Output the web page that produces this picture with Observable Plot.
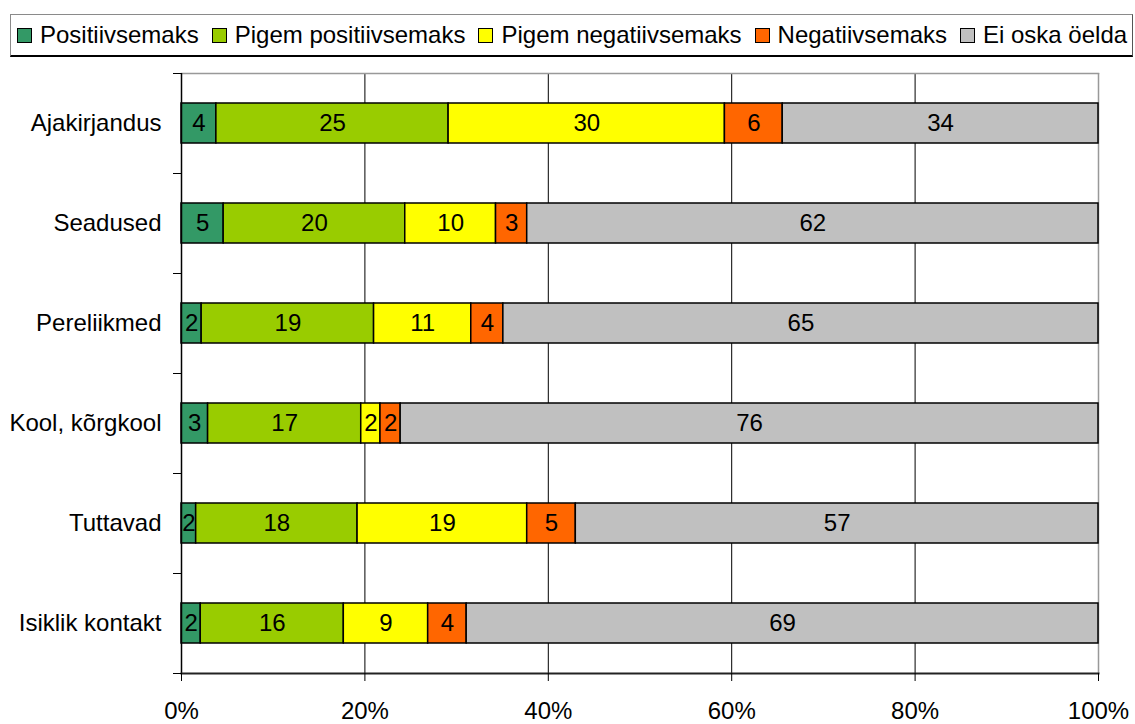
<!DOCTYPE html>
<html>
<head>
<meta charset="utf-8">
<script src="https://cdn.jsdelivr.net/npm/d3@7"></script>
<script src="https://cdn.jsdelivr.net/npm/@observablehq/plot@0.6"></script>
<style>
  html, body { margin: 0; padding: 0; background: #fff; overflow: hidden; }
  body { font-family: "Liberation Sans", Arial, sans-serif; color: #000; }
  #wrap { width: 1135px; height: 724px; position: relative; }
  #legendArea { height: 60px; box-sizing: border-box; padding-top: 14px; padding-left: 10px; }
  #legend {
    width: 1123px; height: 43px; box-sizing: border-box;
    border-top: 1px solid #8a8a8a; border-left: 1px solid #8a8a8a;
    border-bottom: 2px solid #000; border-right: 1px solid #555;
    display: flex; align-items: center; padding-left: 6px;
    font-size: 24px; white-space: nowrap;
  }
  .item { display: flex; align-items: center; margin-right: 13px; }
  .sw { width: 13px; height: 13px; border: 1.5px solid #000; margin-right: 8px; }
</style>
</head>
<body>
<div id="wrap">
  <div id="legendArea"><div id="legend"></div></div>
  <div id="chart"></div>
</div>
<script>
const categories = ["Ajakirjandus", "Seadused", "Pereliikmed", "Kool, kõrgkool", "Tuttavad", "Isiklik kontakt"];
const series = ["Positiivsemaks", "Pigem positiivsemaks", "Pigem negatiivsemaks", "Negatiivsemaks", "Ei oska öelda"];
const colors = ["#339966", "#99cc00", "#ffff00", "#ff6600", "#c0c0c0"];
const positiivsemaks      = [3.8, 4.6, 2.2, 2.9, 1.6, 2.1];
const pigemPositiivsemaks = [25.3, 19.8, 18.8, 16.7, 17.6, 15.6];
const pigemNegatiivsemaks = [30.1, 9.9, 10.6, 2.1, 18.5, 9.2];
const negatiivsemaks      = [6.3, 3.4, 3.5, 2.2, 5.3, 4.2];
const eiOskaOelda         = [34.4, 62.3, 64.9, 76.1, 57.0, 68.9];
const xTicks = [0, 0.2, 0.4, 0.6, 0.8, 1];
const gridTicks = [0.2, 0.4, 0.6, 0.8];

const seriesValues = [positiivsemaks, pigemPositiivsemaks, pigemNegatiivsemaks, negatiivsemaks, eiOskaOelda];
const rows = [];
categories.forEach((c, i) => {
  series.forEach((s, j) => rows.push({category: c, series: s, value: seriesValues[j][i]}));
});

// legend
const legend = document.getElementById("legend");
series.forEach((s, j) => {
  const it = document.createElement("div");
  it.className = "item";
  const sw = document.createElement("div");
  sw.className = "sw";
  sw.style.background = colors[j];
  const t = document.createElement("span");
  t.textContent = s;
  it.appendChild(sw); it.appendChild(t);
  legend.appendChild(it);
});

const font = "'Liberation Sans', Arial, sans-serif";
const chart = Plot.plot({
  width: 1135,
  height: 664,
  marginTop: 13,
  marginBottom: 51,
  marginLeft: 181,
  marginRight: 37,
  style: {fontFamily: font, color: "#000", background: "#fff", overflow: "visible"},
  x: {domain: [0, 1]},
  y: {domain: categories, paddingInner: 0.6, paddingOuter: 0.3, label: null},
  color: {domain: series, range: colors},
  marks: [
    Plot.ruleX(gridTicks, {stroke: "#000", strokeWidth: 1}),
    Plot.frame({anchor: "top", stroke: "#999", strokeWidth: 1.5}),
    Plot.ruleX([1], {stroke: "#999", strokeWidth: 1.5}),
    Plot.barX(rows, Plot.stackX({
      x: "value", y: "category", z: "series", fill: "series",
      order: series, offset: "normalize",
      stroke: "#000", strokeWidth: 1.5
    })),
    Plot.text(rows, Plot.stackX({
      x: "value", y: "category", z: "series",
      order: series, offset: "normalize",
      text: d => String(Math.round(d.value)),
      fontSize: 24, fill: "#000"
    })),
    Plot.ruleX([0], {stroke: "#000", strokeWidth: 1.5}),
    Plot.frame({anchor: "bottom", stroke: "#222", strokeWidth: 2}),
    Plot.axisX({
      ticks: xTicks, tickFormat: d3.format(".0%"), tickSize: 8, tickPadding: 20,
      fontSize: 24, label: null, stroke: "#000"
    }),
    Plot.axisY({tickSize: 0, tickPadding: 20, fontSize: 24, label: null}),
    Plot.axisY(categories, {tickSize: 8, tickFormat: () => "", label: null, dy: -50, stroke: "#000"}),
    Plot.axisY(categories.slice(-1), {tickSize: 8, tickFormat: () => "", label: null, dy: 50, stroke: "#000"})
  ]
});
document.getElementById("chart").appendChild(chart);
</script>
</body>
</html>
